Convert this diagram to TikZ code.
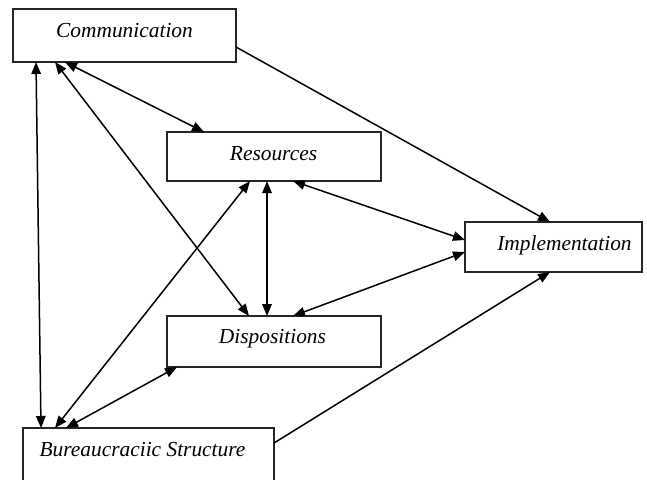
\documentclass[tikz,border=0pt]{standalone}
\usepackage{fontspec}
\setmainfont{Liberation Serif}
\usetikzlibrary{arrows.meta,calc}
\begin{document}
\begin{tikzpicture}[x=1pt,y=-1pt,
  box/.style={draw=black!85,line width=1.4pt,rectangle,inner sep=0pt,outer sep=0pt},
  lbl/.style={anchor=base,inner sep=0pt,font=\fontsize{21.4}{26}\selectfont\itshape},
  conn/.style={line width=1.5pt,{Triangle[length=12pt,width=9.5pt]}-{Triangle[length=12pt,width=9.5pt]}},
  oneway/.style={line width=1.5pt,-{Triangle[length=12pt,width=9.5pt]}}]
\clip (0,0) rectangle (647,479);
\fill[white] (0,0) rectangle (647,479);
\node[box,minimum width=223pt,minimum height=53pt] (comm) at (124.5,35.5) {};
\node[box,minimum width=214pt,minimum height=49pt] (res) at (274,156.5) {};
\node[box,minimum width=177pt,minimum height=50pt] (impl) at (553.5,247) {};
\node[box,minimum width=214pt,minimum height=51pt] (disp) at (274,341.5) {};
\node[box,minimum width=251pt,minimum height=82pt] (bur) at (148.5,469) {};
\node[lbl] (commT) at (124.5,37) {Communication};
\node[lbl] (resT) at (273.5,160) {Resources};
\node[lbl] (implT) at (564.5,250) {Implementation};
\node[lbl] (dispT) at (272.5,343) {Dispositions};
\node[lbl] (burT) at (142.5,456) {Bureaucraciic Structure};
% connectors
\draw[conn] ([xshift=23pt]comm.south west) -- ([xshift=18pt]bur.north west);
\draw[conn] ([xshift=52pt]comm.south west) -- ([xshift=37pt]res.north west);
\draw[conn] ([xshift=42pt]comm.south west) -- ([xshift=82pt]disp.north west);
\draw[oneway] ([yshift=-11.5pt]comm.east) -- ([xshift=85pt]impl.north west);
\draw[conn] ([xshift=100pt]res.south west) -- ([xshift=100pt]disp.north west);
\draw[conn] ([xshift=126pt]res.south west) -- ([yshift=7pt]impl.west);
\draw[conn] ([xshift=126pt]disp.north west) -- ([yshift=-5pt]impl.west);
\draw[conn] ([xshift=83pt]res.south west) -- ([xshift=32pt]bur.north west);
\draw[conn] ([xshift=10pt]disp.south west) -- ([xshift=43pt]bur.north west);
\draw[oneway] ([yshift=-15pt]bur.north east) -- ([xshift=85pt]impl.south west);
\end{tikzpicture}
\end{document}
